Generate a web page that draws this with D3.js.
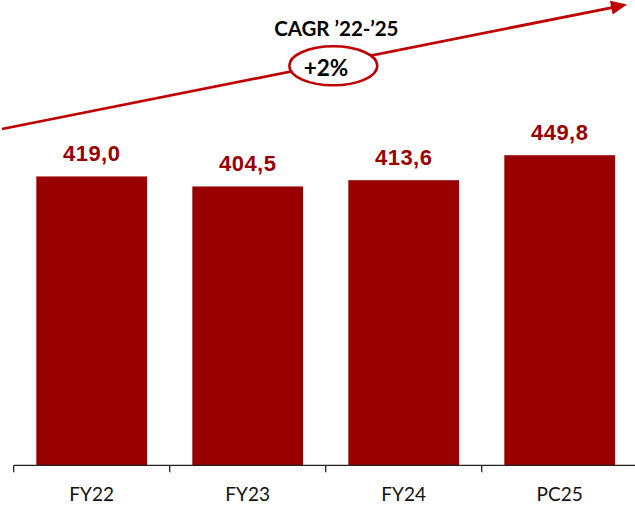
<!DOCTYPE html>
<html>
<head>
<meta charset="utf-8">
<script src="https://cdn.jsdelivr.net/npm/d3@7"></script>
<style>
  html, body { margin: 0; padding: 0; background: #fff; }
  svg { display: block; }
</style>
</head>
<body>
<svg id="chart" width="635" height="505"></svg>
<script>
// Revenue by fiscal year
const categories = ["FY22", "FY23", "FY24", "PC25"];
const values = [419.0, 404.5, 413.6, 449.8];
const valueLabels = ["419,0", "404,5", "413,6", "449,8"];
const cagrTitle = "CAGR \u201922-\u201925";
const cagrValue = "+2%";

const barColor = "#990000";
const labelColor = "#990000";
const arrowColor = "#c00000";
const calibriLike = "Lato, 'Open Sans', sans-serif";

const svg = d3.select("#chart");

const x = d3.scaleBand()
  .domain(categories)
  .range([13.7, 637.7])
  .paddingInner(0.29)
  .paddingOuter(0.145);

const y = d3.scaleLinear()
  .domain([0, 480])
  .range([465.3, 134.4]);

// bars
svg.append("g")
  .selectAll("rect")
  .data(values)
  .join("rect")
  .attr("x", (d, i) => x(categories[i]))
  .attr("y", d => y(d))
  .attr("width", x.bandwidth())
  .attr("height", d => y(0) - y(d))
  .attr("fill", barColor);

// value labels
svg.append("g")
  .selectAll("text")
  .data(values)
  .join("text")
  .attr("x", (d, i) => x(categories[i]) + x.bandwidth() / 2)
  .attr("y", d => y(d) - 15.3)
  .attr("text-anchor", "middle")
  .attr("font-family", "'Liberation Sans', Arial, sans-serif")
  .attr("font-weight", "bold")
  .attr("font-size", 22)
  .attr("letter-spacing", 0.5)
  .attr("fill", labelColor)
  .text((d, i) => valueLabels[i]);

// category axis: baseline with ticks at band boundaries
const axisG = svg.append("g");
const step = x.step();
const boundaries = categories.map(c => x(c) - x.paddingInner() * step / 2)
  .concat([x(categories[categories.length - 1]) + x.bandwidth() + x.paddingInner() * step / 2]);

axisG.append("line")
  .attr("x1", boundaries[0])
  .attr("x2", 635)
  .attr("y1", y(0))
  .attr("y2", y(0))
  .attr("stroke", "#222")
  .attr("stroke-width", 1.3);

axisG.selectAll("line.tick")
  .data(boundaries)
  .join("line")
  .attr("class", "tick")
  .attr("x1", d => d)
  .attr("x2", d => d)
  .attr("y1", y(0))
  .attr("y2", y(0) + 7)
  .attr("stroke", "#222")
  .attr("stroke-width", 1.3);

axisG.selectAll("text")
  .data(categories)
  .join("text")
  .attr("x", d => x(d) + x.bandwidth() / 2)
  .attr("y", 501)
  .attr("text-anchor", "middle")
  .attr("font-family", calibriLike)
  .attr("font-size", 19)
  .attr("fill", "#111")
  .text(d => d);

// growth arrow
const start = [2, 129];
const tip = [627, 4.6];
const dx = tip[0] - start[0], dy = tip[1] - start[1];
const len = Math.hypot(dx, dy);
const ux = dx / len, uy = dy / len;
const headLen = 16, headHalf = 7;
const base = [tip[0] - ux * headLen, tip[1] - uy * headLen];

svg.append("line")
  .attr("x1", start[0]).attr("y1", start[1])
  .attr("x2", base[0] + ux * 2).attr("y2", base[1] + uy * 2)
  .attr("stroke", arrowColor)
  .attr("stroke-width", 2.8);

svg.append("polygon")
  .attr("points", [
    tip,
    [base[0] - uy * headHalf, base[1] + ux * headHalf],
    [base[0] + uy * headHalf, base[1] - ux * headHalf]
  ].map(p => p.join(",")).join(" "))
  .attr("fill", arrowColor);

// CAGR callout
svg.append("ellipse")
  .attr("cx", 333.3)
  .attr("cy", 65.8)
  .attr("rx", 44)
  .attr("ry", 19.5)
  .attr("fill", "#fff")
  .attr("stroke", arrowColor)
  .attr("stroke-width", 2.6);

svg.append("text")
  .attr("x", 336.3)
  .attr("y", 35.7)
  .attr("text-anchor", "middle")
  .attr("font-family", calibriLike)
  .attr("font-weight", "bold")
  .attr("font-size", 20.5)
  .attr("fill", "#000")
  .text(cagrTitle);

svg.append("text")
  .attr("x", 326)
  .attr("y", 76)
  .attr("text-anchor", "middle")
  .attr("font-family", calibriLike)
  .attr("font-weight", "bold")
  .attr("font-size", 22.5)
  .attr("fill", "#000")
  .text(cagrValue);
</script>
</body>
</html>
